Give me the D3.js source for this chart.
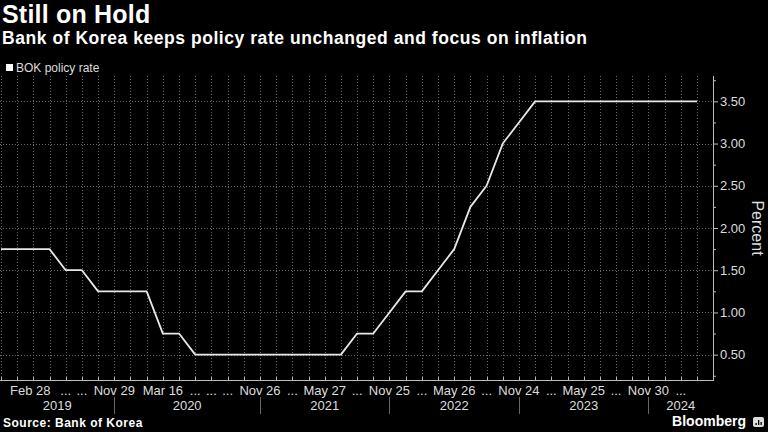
<!DOCTYPE html>
<html>
<head>
<meta charset="utf-8">
<script src="https://cdn.jsdelivr.net/npm/d3@7/dist/d3.min.js"></script>
<style>
  html, body { margin: 0; padding: 0; background: #000; }
  svg { display: block; }
</style>
</head>
<body>
<svg id="chart" width="768" height="432"></svg>
<script>
// ---------------- DATA ----------------
const meetingDates = [
  "2019-01-24","2019-02-28","2019-04-18","2019-05-31","2019-07-18","2019-08-30","2019-10-16","2019-11-29",
  "2020-01-17","2020-02-27","2020-03-16","2020-04-09","2020-05-28","2020-07-16","2020-08-27","2020-10-15","2020-11-26",
  "2021-01-15","2021-02-25","2021-04-15","2021-05-27","2021-07-15","2021-08-26","2021-10-12","2021-11-25",
  "2022-01-14","2022-02-24","2022-04-14","2022-05-26","2022-07-13","2022-08-25","2022-10-12","2022-11-24",
  "2023-01-13","2023-02-23","2023-04-11","2023-05-25","2023-07-13","2023-08-24","2023-10-19","2023-11-30",
  "2024-01-11","2024-02-22","2024-04-12"
];
const policyRate = [
  1.75,1.75,1.75,1.75,1.50,1.50,1.25,1.25,
  1.25,1.25,0.75,0.75,0.50,0.50,0.50,0.50,0.50,
  0.50,0.50,0.50,0.50,0.50,0.75,0.75,1.00,
  1.25,1.25,1.50,1.75,2.25,2.50,3.00,3.25,
  3.50,3.50,3.50,3.50,3.50,3.50,3.50,3.50,
  3.50,3.50,3.50
];
// category tick labels (Bloomberg-style, crowded ones shown as "...")
const tickCats = [
  "2019-02-28","2019-07-18","2019-08-30","2019-11-29","2020-03-16","2020-05-28","2020-07-16","2020-08-27",
  "2020-11-26","2021-02-25","2021-05-27","2021-08-26","2021-11-25","2022-02-24","2022-05-26","2022-08-25",
  "2022-11-24","2023-02-23","2023-05-25","2023-08-24","2023-11-30","2024-02-22"
];
const tickTexts = [
  "Feb 28","...","...","Nov 29","Mar 16","...","...","...",
  "Nov 26","...","May 27","...","Nov 25","...","May 26","...",
  "Nov 24","...","May 25","...","Nov 30","..."
];
const years = ["2019","2020","2021","2022","2023","2024"];
const yTicks = [0.5,1.0,1.5,2.0,2.5,3.0,3.5];
const yMinor = [0.25,0.75,1.25,1.75,2.25,2.75,3.25,3.75];

// ---------------- LAYOUT ----------------
const W = 768, H = 432;
const plotL = 0, plotR = 713, plotT = 76, plotB = 380;
const FONT = "'Liberation Sans', Arial, sans-serif";

const svg = d3.select("#chart");
svg.append("rect").attr("width", W).attr("height", H).attr("fill", "#000");

const x = d3.scalePoint().domain(meetingDates).range([1, 697]);
const y = d3.scaleLinear().domain([0.2, 3.8]).range([plotB, plotT]);

// Titles
svg.append("text").attr("x", 2).attr("y", 23).attr("fill", "#fff")
  .attr("font-family", FONT).attr("font-weight", "bold").attr("font-size", 25)
  .attr("letter-spacing", 0.2)
  .text("Still on Hold");
svg.append("text").attr("x", 2).attr("y", 44).attr("fill", "#fff")
  .attr("font-family", FONT).attr("font-weight", "bold").attr("font-size", 17.5)
  .attr("letter-spacing", 0.55)
  .text("Bank of Korea keeps policy rate unchanged and focus on inflation");

// Legend
svg.append("rect").attr("x", 6).attr("y", 64).attr("width", 7).attr("height", 7).attr("fill", "#fff");
svg.append("text").attr("x", 16).attr("y", 72).attr("fill", "#ddd")
  .attr("font-family", FONT).attr("font-size", 12).text("BOK policy rate");

// Gridlines
const grid = svg.append("g");
grid.selectAll("line.h").data(yTicks).join("line")
  .attr("x1", plotL).attr("x2", plotR)
  .attr("y1", d => Math.round(y(d)) + 0.5).attr("y2", d => Math.round(y(d)) + 0.5)
  .attr("stroke", "#6a6a6a").attr("stroke-width", 1).attr("stroke-dasharray", "1,2");
grid.selectAll("line.v").data(meetingDates).join("line")
  .attr("x1", d => Math.round(x(d)) + 0.5).attr("x2", d => Math.round(x(d)) + 0.5)
  .attr("y1", plotT).attr("y2", plotB)
  .attr("stroke", "#6a6a6a").attr("stroke-width", 1).attr("stroke-dasharray", "1,2");

// Right axis
const yAxis = d3.axisRight(y).tickValues(yTicks).tickFormat(d3.format(".2f")).tickSize(5).tickPadding(2);
const gy = svg.append("g").attr("transform", `translate(${plotR},0)`).call(yAxis);
gy.select(".domain").remove();
gy.selectAll(".tick line").attr("stroke", "#bbb");
gy.selectAll(".tick text").attr("fill", "#ddd").attr("font-family", FONT).attr("font-size", 13);
svg.append("line").attr("x1", plotR + 0.5).attr("x2", plotR + 0.5).attr("y1", plotT).attr("y2", plotB)
  .attr("stroke", "#bbb");
svg.selectAll("line.minor").data(yMinor.filter(d => y(d) >= plotT)).join("line")
  .attr("x1", plotR).attr("x2", plotR + 3)
  .attr("y1", d => y(d) + 0.5).attr("y2", d => y(d) + 0.5).attr("stroke", "#bbb");

svg.append("text")
  .attr("transform", `translate(752, ${(plotT + plotB) / 2}) rotate(90)`)
  .attr("text-anchor", "middle").attr("fill", "#ddd")
  .attr("font-family", FONT).attr("font-size", 16).text("Percent");

// Bottom axis
svg.append("line").attr("x1", plotL).attr("x2", plotR + 1).attr("y1", plotB + 0.5).attr("y2", plotB + 0.5)
  .attr("stroke", "#bbb");
svg.selectAll("line.xt").data(meetingDates).join("line")
  .attr("x1", d => Math.round(x(d)) + 0.5).attr("x2", d => Math.round(x(d)) + 0.5)
  .attr("y1", plotB - 3).attr("y2", plotB).attr("stroke", "#bbb");

// Category labels
const tickG = svg.append("g");
tickCats.forEach((c, i) => {
  const t = tickG.append("text").attr("y", 395).attr("fill", "#ddd")
    .attr("font-family", FONT).attr("font-size", 13).attr("text-anchor", "middle")
    .text(tickTexts[i]);
  const w = t.node().getComputedTextLength();
  t.attr("x", Math.max(x(c), 10 + w / 2));
});

// Year separators and labels
const yearEnds = years.map(yr => meetingDates.filter(d => d.startsWith(yr)).slice(-1)[0]);
const sepX = yearEnds.slice(0, -1).map(d => x(d));
svg.selectAll("line.sep").data(sepX).join("line")
  .attr("x1", d => Math.round(d) + 0.5).attr("x2", d => Math.round(d) + 0.5)
  .attr("y1", 397).attr("y2", 414).attr("stroke", "#666");
const bounds = [plotL].concat(sepX).concat([plotR]);
svg.selectAll("text.year").data(years).join("text")
  .attr("x", (d, i) => (bounds[i] + bounds[i + 1]) / 2).attr("y", 410)
  .attr("text-anchor", "middle").attr("fill", "#ddd")
  .attr("font-family", FONT).attr("font-size", 13).text(d => d);

// Line
const line = d3.line().x((d, i) => x(meetingDates[i])).y(d => y(d));
svg.append("path").datum(policyRate).attr("d", line)
  .attr("fill", "none").attr("stroke", "#e8e8e8").attr("stroke-width", 1.8)
  .attr("stroke-linejoin", "round");

// Footer
svg.append("text").attr("x", 3).attr("y", 427).attr("fill", "#fff")
  .attr("font-family", FONT).attr("font-weight", "bold").attr("font-size", 12)
  .attr("letter-spacing", 0.5)
  .text("Source: Bank of Korea");
svg.append("text").attr("x", 746).attr("y", 426).attr("text-anchor", "end").attr("fill", "#fff")
  .attr("font-family", FONT).attr("font-weight", "bold").attr("font-size", 14)
  .text("Bloomberg");
svg.append("rect").attr("x", 753).attr("y", 417).attr("width", 11).attr("height", 10).attr("rx", 2)
  .attr("fill", "#ddd");
[[755.5, 423, 2], [758, 420, 5], [760.5, 422, 3]].forEach(b => {
  svg.append("rect").attr("x", b[0]).attr("y", b[1]).attr("width", 1.3).attr("height", b[2]).attr("fill", "#000");
});
</script>
</body>
</html>
